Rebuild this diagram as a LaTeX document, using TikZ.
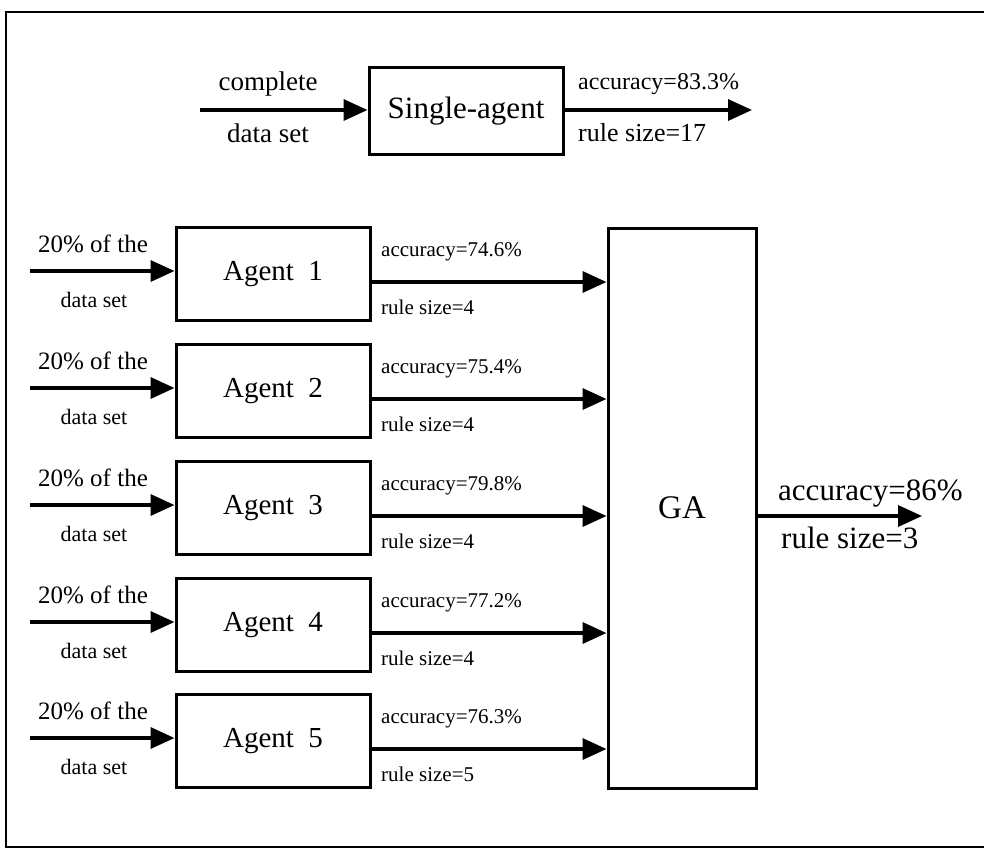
\documentclass[tikz,border=0pt]{standalone}
\usepackage{fontspec}
\setmainfont{Liberation Serif}
\usetikzlibrary{arrows.meta}
\begin{document}
\begin{tikzpicture}[x=1pt,y=-1pt,
  box/.style={draw,line width=3pt,minimum width=194pt,inner sep=0pt},
  arr/.style={line width=3.5pt,-{Triangle[length=24pt,width=21pt]}},
  lab/.style={inner sep=0pt,font=\fontsize{25}{25}\selectfont},
  slab/.style={inner sep=0pt,anchor=west,font=\fontsize{21}{21}\selectfont}]
\useasboundingbox (0,0) rectangle (984,852);
\draw[line width=2.5pt] (986,12) -- (6,12) -- (6,847) -- (986,847);
% top
\node[box,minimum width=194pt,minimum height=87pt,font=\fontsize{31}{31}\selectfont] (sa) at (466,111) {Single-agent};
\coordinate (sin) at (200,110);
\coordinate (sout) at (752,110);
\draw[arr] (sin) -- (sin-|sa.west);
\draw[arr] (sout-|sa.east) -- (sout);
\node[lab,font=\fontsize{27}{27}\selectfont] (c1) at (268,84) {complete};
\node[lab,font=\fontsize{27}{27}\selectfont] (c2) at (268,133) {data set};
\node[lab,font=\fontsize{24}{24}\selectfont,anchor=west] (o1) at (578,84) {accuracy=83.3\%};
\node[lab,font=\fontsize{26}{26}\selectfont,anchor=west] (o2) at (578,133) {rule size=17};
% GA
\node[draw,line width=3pt,minimum width=148pt,minimum height=560pt,inner sep=0pt,font=\fontsize{33}{33}\selectfont] (ga) at (682,508) {GA};
\coordinate (gout) at (922,516);
\draw[arr] (gout-|ga.east) -- (gout);
\node[lab,font=\fontsize{31}{31}\selectfont,anchor=west] (g1) at (778,494) {accuracy=86\%};
\node[lab,font=\fontsize{31}{31}\selectfont,anchor=west] (g2) at (781,538) {rule size=3};
% agents
\foreach \i/\yc/\acc/\rs in {1/274/74.6/4, 2/391/75.4/4, 3/508/79.8/4, 4/625/77.2/4, 5/741/76.3/5}{
  \node[box,minimum height=93pt,font=\fontsize{29}{29}\selectfont] (a\i) at (273,\yc) {Agent\ \ \i};
  \coordinate (in\i) at (30,\yc-3);
  \coordinate (out\i) at (370,\yc+8);
  \draw[arr] (in\i) -- (in\i-|a\i.west);
  \draw[arr] (out\i) -- (out\i-|ga.west);
  \node[lab] (p\i) at (93,\yc-30) {20\% of the};
  \node[lab,font=\fontsize{22}{22}\selectfont] (d\i) at (94,\yc+26) {data set};
  \node[slab] (ac\i) at (381,\yc-22) {accuracy=\acc\%};
  \node[slab] (r\i) at (381,\yc+33) {rule size=\rs};
}
\end{tikzpicture}
\end{document}
